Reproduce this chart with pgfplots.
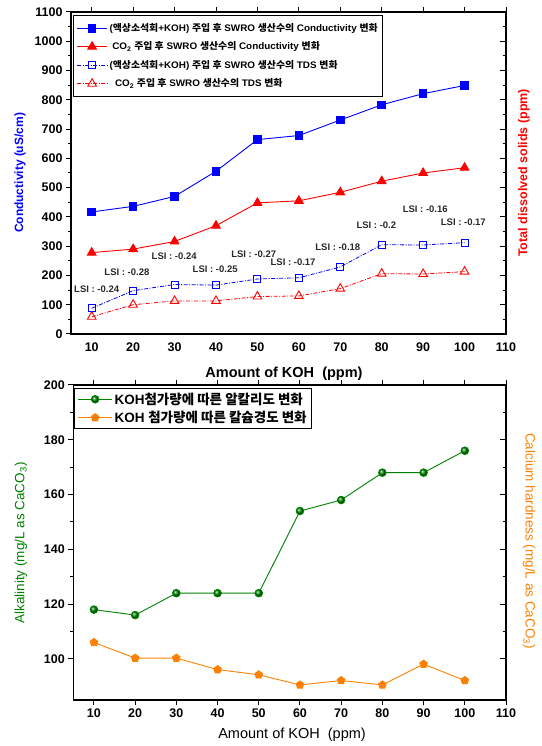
\documentclass[border=0pt]{standalone}
\usepackage{fontspec}
\setmainfont{Liberation Sans}
\newfontfamily\kr{Noto Sans CJK KR}
\usepackage{graphicx}
\usepackage{pgfplots}
\pgfplotsset{compat=1.18}
\usepackage{pgfplotstable}
\usetikzlibrary{plotmarks}

\definecolor{cblue}{RGB}{0,0,255}
\definecolor{cred}{RGB}{255,0,0}
\definecolor{cgreen}{RGB}{0,128,0}
\definecolor{corange}{RGB}{255,128,0}
\definecolor{lsigray}{RGB}{40,40,40}

% Korean words inside the legend entries
\newcommand{\K}[1]{{\kr\bfseries #1}}
% upper legend entries are set a little wider than the font's natural width
\newcommand{\W}[1]{\scalebox{1.04}[1]{#1}}

% conductivity (uS/cm) and TDS (ppm) of the SWRO permeate
\pgfplotstableread{
x   cond co2cond tds co2tds
10  417  278     88  59
20  436  290     148 100
30  470  316     169 113
40  556  370     167 113
50  664  448     188 128
60  678  455     192 130
70  731  484     229 155
80  783  522     305 206
90  821  550     304 205
100 849  568     312 213
}\topdata

% alkalinity and calcium hardness (mg/L as CaCO3)
\pgfplotstableread{
x   alk cah
10  118 106
20  116 100.3
30  124 100.3
40  124 96.1
50  124 94.2
60  154 90.5
70  158 92.1
80  168 90.5
90  168 98.1
100 176 92.1
}\botdata

\tikzset{lsi/.style={font=\fontsize{9.5}{11}\selectfont\bfseries, text=lsigray, inner sep=0pt}}

\pgfplotsset{
  panel/.style={
    scale only axis, anchor=south west,
    xmin=5, xmax=110, xtick={10,20,...,110},
    tick align=outside, major tick length=5pt, minor tick length=3pt,
    minor y tick num=1,
    axis line style={line width=1.1pt, black},
    every tick/.style={line width=1pt, black},
    /pgf/number format/assume math mode=true,
    /pgf/number format/1000 sep={},
    ticklabel style={font=\fontsize{12.5}{14}\selectfont\bfseries},
    legend cell align=left,
    legend image code/.code={\draw[mark repeat=2,mark phase=2,#1]
      plot coordinates {(0pt,0pt) (15pt,0pt) (30pt,0pt)};},
  },
  rightticks/.style={
    scale only axis, anchor=south west,
    xmin=5, xmax=110,
    axis x line=none, axis y line*=right,
    tick align=inside, major tick length=6pt, minor tick length=3.5pt,
    minor y tick num=1, yticklabels={},
    axis line style={line width=1.1pt, black},
    every tick/.style={line width=1pt, black},
  },
}

\begin{document}
\begin{tikzpicture}[x=1pt,y=1pt]
\path[use as bounding box] (0,0) rectangle (541,746);

% ---------------- upper panel ----------------
\begin{axis}[panel,
  at={(71pt,412pt)}, width=435pt, height=322pt,
  ymin=0, ymax=1100, ytick={0,100,...,1100},
  ytick pos=left, xtick pos=right, xticklabel pos=left,
  legend style={at={(0.005,0.991)}, anchor=north west, draw=black,
    line width=1pt, font=\fontsize{9.5}{12}\selectfont\bfseries,
    row sep=5pt, inner xsep=3pt, inner ysep=6pt},
]
\addplot[cblue, line width=0.9pt, mark=square*, mark size=3.8pt,
  mark options={solid, fill=cblue}] table[x=x, y=cond] {\topdata};
\addlegendentry{\W{(\K{액상소석회}+KOH) \K{주입 후} SWRO \K{생산수의} Conductivity \K{변화}}}
\addplot[cred, line width=0.9pt, mark=triangle*, mark size=5pt,
  mark options={solid, fill=cred}] table[x=x, y=co2cond] {\topdata};
\addlegendentry{\W{\ CO\textsubscript{2} \K{주입 후} SWRO \K{생산수의} Conductivity \K{변화}}}
\addplot[cblue, line width=0.8pt, dash pattern=on 4pt off 1.5pt on 1pt off 1.5pt,
  mark=square, mark size=3.5pt, mark options={solid, fill=white, line width=0.9pt}]
  table[x=x, y=tds] {\topdata};
\addlegendentry{\W{(\K{액상소석회}+KOH) \K{주입 후} SWRO \K{생산수의} TDS \K{변화}}}
\addplot[cred, line width=0.8pt, dash pattern=on 4pt off 1.5pt on 1pt off 1.5pt,
  mark=triangle, mark size=5pt, mark options={solid, fill=white, line width=0.9pt}]
  table[x=x, y=co2tds] {\topdata};
\addlegendentry{\W{\ \ CO\textsubscript{2} \K{주입 후} SWRO \K{생산수의} TDS \K{변화}}}

\node[lsi] at (axis cs:11.2,153) {LSI : -0.24};
\node[lsi] at (axis cs:18.5,210) {LSI : -0.28};
\node[lsi] at (axis cs:29.9,267) {LSI : -0.24};
\node[lsi] at (axis cs:39.8,222) {LSI : -0.25};
\node[lsi] at (axis cs:49.1,271) {LSI : -0.27};
\node[lsi] at (axis cs:58.6,244) {LSI : -0.17};
\node[lsi] at (axis cs:69.4,297) {LSI : -0.18};
\node[lsi] at (axis cs:78.7,370) {LSI : -0.2};
\node[lsi] at (axis cs:90.5,425) {LSI : -0.16};
\node[lsi] at (axis cs:99.7,381) {LSI : -0.17};
\end{axis}
\begin{axis}[rightticks,
  at={(71pt,412pt)}, width=435pt, height=322pt,
  ymin=0, ymax=1100, ytick={0,100,...,1100}]
\end{axis}

\node[rotate=90, text=cblue, font=\fontsize{12}{14}\selectfont\bfseries]
  at (20,573) {Conductivity (uS/cm)};
\node[rotate=90, text=cred, font=\fontsize{12.5}{14}\selectfont\bfseries]
  at (524,573) {Total dissolved solids (ppm)};
\node[font=\fontsize{14.5}{16}\selectfont\bfseries]
  at (284,372) {Amount of KOH\ \ (ppm)};

% ---------------- lower panel ----------------
\begin{axis}[panel,
  at={(73.3pt,46pt)}, width=432.7pt, height=315pt,
  ymin=85, ymax=200, ytick={100,120,...,200},
  ytick pos=left, xtick pos=both,
  legend style={at={(0.002,0.9895)}, anchor=north west, draw=black,
    line width=1pt, font=\fontsize{13.5}{15}\selectfont\bfseries,
    row sep=1.5pt, inner xsep=3pt, inner ysep=2pt},
  legend image code/.code={\draw[mark repeat=2,mark phase=2,#1]
      plot coordinates {(0pt,0pt) (17pt,0pt) (34pt,0pt)};},
]
\addplot[cgreen, line width=0.9pt, mark=ball, mark size=3.8pt,
  mark options={ball color=cgreen}] table[x=x, y=alk] {\botdata};
\addlegendentry{KOH\K{첨가량에 따른 알칼리도 변화}}
\addplot[corange, line width=0.9pt, mark=pentagon*, mark size=4pt,
  mark options={fill=corange}] table[x=x, y=cah] {\botdata};
\addlegendentry{KOH \K{첨가량에 따른 칼슘경도 변화}}
\end{axis}
\begin{axis}[rightticks,
  at={(73.3pt,46pt)}, width=432.7pt, height=315pt,
  ymin=85, ymax=200, ytick={100,120,...,200}]
\end{axis}

\node[rotate=90, text=cgreen, font=\fontsize{13.5}{15}\selectfont]
  at (21,203) {Alkalinity (mg/L as CaCO\textsubscript{3})};
\node[rotate=-90, text=corange, font=\fontsize{13.5}{15}\selectfont]
  at (529,205) {Calcium hardness (mg/L as CaCO\textsubscript{3})};
\node[font=\fontsize{14.5}{16}\selectfont]
  at (292,11) {Amount of KOH\ \ (ppm)};
\end{tikzpicture}
\end{document}
